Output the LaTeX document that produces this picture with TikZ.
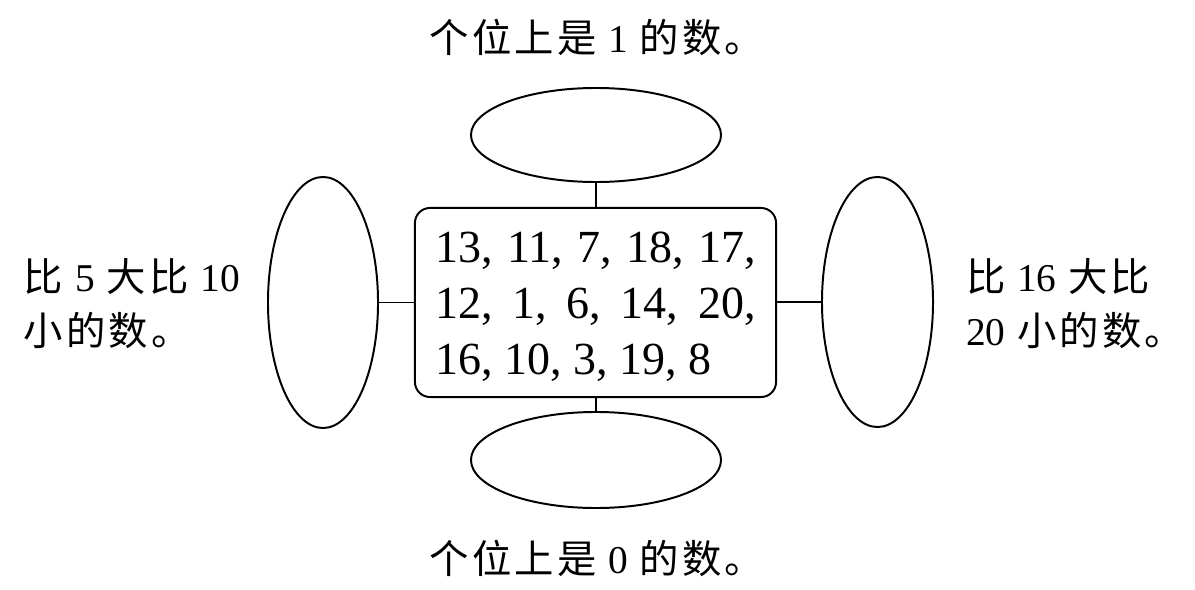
\documentclass[tikz,border=0pt]{standalone}
\usepackage{fontspec}
\setmainfont{Liberation Serif}
\newfontfamily\cjk[LetterSpace=8]{Noto Sans CJK SC}
\usetikzlibrary{shapes.geometric}
\newcommand{\dg}[1]{\hspace{0.3em}{\rmfamily #1}\hspace{0.3em}}
\newcommand{\dgl}[1]{{\rmfamily #1}\hspace{0.3em}}
\begin{document}
\begin{tikzpicture}[x=0.025cm,y=-0.025cm,line width=1.4pt,
  oval/.style={draw,ellipse,inner sep=0pt,outer sep=0pt},
  lbl/.style={inner sep=0pt,font=\fontsize{28}{38.4}\selectfont,align=left},
  numbox/.style={draw,rounded corners=0.375cm,inner sep=0pt,outer sep=0pt,
    minimum width=9.025cm,minimum height=4.725cm,align=left,
    font=\fontsize{32.7}{39.8}\selectfont}]
\useasboundingbox (0,0) rectangle (1195,590);
\node[numbox] (box) at (595.5,302.5) {\rule{0pt}{28pt}\makebox[8cm][s]{13, 11, 7, 18, 17,}\\
\makebox[8cm][s]{12, 1, 6, 14, 20,}\\
16, 10, 3, 19, 8};
\node[oval,minimum width=6.25cm,minimum height=2.35cm] (top) at (596,135) {};
\node[oval,minimum width=6.25cm,minimum height=2.4cm] (bot) at (596,460) {};
\node[oval,minimum width=2.75cm,minimum height=6.275cm] (lo) at (323,302.5) {};
\node[oval,minimum width=2.775cm,minimum height=6.25cm] (ro) at (877.5,302) {};
\draw (top.south) -- (top.south |- box.north);
\draw (bot.north) -- (bot.north |- box.south);
\draw (lo.east) -- (lo.east -| box.west);
\draw (ro.west) -- (ro.west -| box.east);
\node[lbl] (tl) at (597,37) {\cjk 个位上是\dg{1}的数。};
\node[lbl] (bl) at (597,558) {\cjk 个位上是\dg{0}的数。};
\node[lbl,anchor=west] (ll) at (23,304) {\cjk 比\dg{5}大比\dg{10}\\ \cjk 小的数。};
\node[lbl,anchor=west] (rl) at (965,304) {\cjk 比\dg{16}大比\\ \cjk\dgl{20}小的数。};
\end{tikzpicture}
\end{document}
